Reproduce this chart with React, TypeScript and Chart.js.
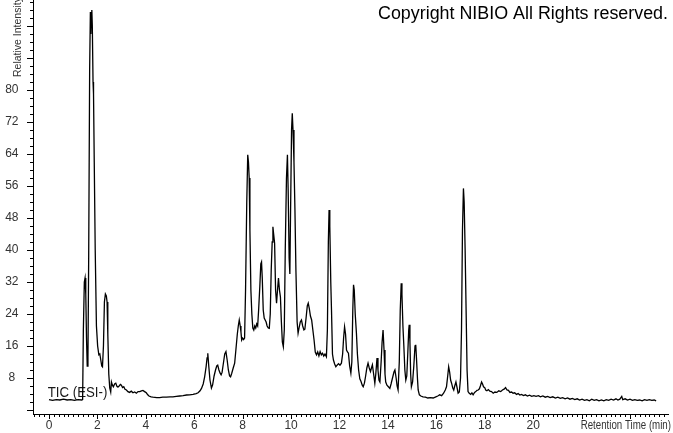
import { useEffect, useRef } from "react";
import { Chart, registerables } from "chart.js";

Chart.register(...registerables);

// ---- data ----
const retentionTimes = [
  0.0, 0.15, 0.3, 0.45, 0.6, 0.75, 0.9, 1.05, 1.2, 1.35, 1.39, 1.42, 1.46, 1.49, 1.52, 1.55, 1.58, 1.61, 1.64, 1.68,
  1.71, 1.73, 1.75, 1.77, 1.79, 1.82, 1.84, 1.87, 1.91, 1.96, 2.01, 2.06, 2.1, 2.14, 2.18, 2.21, 2.25, 2.29, 2.33, 2.37,
  2.4, 2.43, 2.47, 2.51, 2.55, 2.58, 2.62, 2.66, 2.71, 2.76, 2.81, 2.85, 2.9, 2.95, 2.99, 3.04, 3.09, 3.14, 3.2, 3.26,
  3.33, 3.4, 3.47, 3.54, 3.61, 3.68, 3.75, 3.82, 3.88, 3.95, 4.02, 4.08, 4.13, 4.22, 4.3, 4.45, 4.57, 4.7, 4.85, 5.0,
  5.12, 5.26, 5.4, 5.54, 5.68, 5.81, 5.95, 6.08, 6.16, 6.24, 6.3, 6.37, 6.43, 6.49, 6.53, 6.56, 6.6, 6.65, 6.71, 6.76,
  6.82, 6.88, 6.93, 6.97, 7.02, 7.07, 7.11, 7.15, 7.2, 7.26, 7.31, 7.36, 7.41, 7.46, 7.5, 7.55, 7.61, 7.67, 7.72, 7.78,
  7.82, 7.86, 7.9, 7.93, 7.96, 8.0, 8.04, 8.08, 8.12, 8.17, 8.21, 8.24, 8.27, 8.3, 8.34, 8.38, 8.42, 8.46, 8.5, 8.54,
  8.58, 8.62, 8.66, 8.71, 8.75, 8.78, 8.81, 8.85, 8.89, 8.93, 8.97, 9.01, 9.06, 9.1, 9.14, 9.18, 9.22, 9.25, 9.28, 9.32,
  9.36, 9.4, 9.44, 9.48, 9.52, 9.56, 9.6, 9.64, 9.68, 9.72, 9.76, 9.81, 9.85, 9.88, 9.92, 9.95, 9.98, 10.02, 10.05, 10.08,
  10.12, 10.16, 10.2, 10.25, 10.29, 10.33, 10.38, 10.43, 10.48, 10.53, 10.57, 10.62, 10.67, 10.71, 10.75, 10.8, 10.85, 10.9, 10.95, 11.0,
  11.05, 11.1, 11.15, 11.2, 11.25, 11.3, 11.35, 11.4, 11.46, 11.5, 11.54, 11.57, 11.6, 11.64, 11.67, 11.71, 11.75, 11.8, 11.85, 11.9,
  11.96, 12.02, 12.08, 12.13, 12.17, 12.21, 12.25, 12.29, 12.33, 12.37, 12.42, 12.47, 12.51, 12.55, 12.58, 12.61, 12.65, 12.7, 12.74, 12.79,
  12.84, 12.89, 12.94, 12.98, 13.03, 13.08, 13.13, 13.18, 13.23, 13.28, 13.32, 13.36, 13.41, 13.46, 13.5, 13.55, 13.59, 13.63, 13.67, 13.72,
  13.76, 13.8, 13.84, 13.88, 13.91, 13.96, 14.02, 14.08, 14.13, 14.19, 14.25, 14.29, 14.34, 14.38, 14.42, 14.47, 14.51, 14.55, 14.58, 14.62,
  14.66, 14.7, 14.74, 14.78, 14.82, 14.86, 14.88, 14.91, 14.94, 14.97, 15.02, 15.07, 15.12, 15.15, 15.18, 15.22, 15.25, 15.3, 15.36, 15.45,
  15.55, 15.65, 15.75, 15.87, 15.98, 16.06, 16.14, 16.22, 16.3, 16.37, 16.42, 16.47, 16.51, 16.55, 16.59, 16.63, 16.68, 16.72, 16.76, 16.81,
  16.86, 16.9, 16.95, 17.0, 17.04, 17.08, 17.12, 17.15, 17.19, 17.23, 17.27, 17.31, 17.36, 17.42, 17.47, 17.52, 17.58, 17.63, 17.68, 17.73,
  17.78, 17.82, 17.87, 17.91, 17.95, 18.0, 18.04, 18.09, 18.15, 18.21, 18.28, 18.35, 18.42, 18.5, 18.58, 18.66, 18.73, 18.8, 18.86, 18.92,
  18.98, 19.04, 19.11, 19.17, 19.24, 19.31, 19.38, 19.45, 19.52, 19.6, 19.68, 19.76, 19.85, 19.94, 20.03, 20.12, 20.22, 20.3, 20.4, 20.5,
  20.6, 20.7, 20.81, 20.92, 21.02, 21.12, 21.22, 21.32, 21.42, 21.52, 21.62, 21.72, 21.82, 21.92, 22.02, 22.12, 22.22, 22.32, 22.42, 22.52,
  22.62, 22.72, 22.82, 22.92, 23.02, 23.12, 23.22, 23.32, 23.42, 23.5, 23.58, 23.66, 23.7, 23.8, 23.9, 24.0, 24.1, 24.2, 24.3, 24.4,
  24.5, 24.6, 24.7, 24.8, 24.9, 25.0, 25.08,
];

const relativeIntensity = [
  2.6, 2.4, 2.6, 2.5, 2.7, 2.5, 2.6, 2.4, 2.6, 2.5, 2.6, 20, 32, 33, 29, 18, 11, 13, 38, 85,
  99.5, 94, 99, 100, 96, 82, 79, 62, 40, 21, 16, 13.8, 14, 12.5, 11, 10.8, 16, 27, 29, 28.5,
  27, 19, 9, 5.5, 4.5, 7, 6.2, 5.8, 6.5, 6.7, 5.9, 5.8, 6.0, 6.4, 6.2, 5.6, 5.8, 5.2, 5.0, 4.6,
  4.4, 4.7, 4.3, 4.5, 4.2, 4.6, 4.6, 4.8, 4.9, 4.6, 4.3, 3.8, 3.5, 3.3, 3.2, 3.1, 3.1, 3.2, 3.2, 3.3,
  3.3, 3.4, 3.5, 3.6, 3.75, 3.8, 3.9, 4.1, 4.3, 4.8, 5.4, 6.5, 8.3, 10.8, 13, 14.2, 11, 7.5, 5.5, 6.3,
  8.5, 10, 11, 11.2, 10, 9.2, 8.8, 9.4, 11.5, 14, 14.6, 12.5, 10, 8.5, 8.3, 9.2, 10.5, 11.7, 15, 19,
  21, 22.5, 21, 19.5, 17.5, 18, 17.6, 18, 30, 52, 63.8, 62, 58, 45, 30, 24, 20.5, 20, 21, 20.5,
  21.5, 21, 25, 31, 36.5, 37, 33, 25, 23, 22.5, 22, 21, 20.5, 20.4, 24, 35, 42, 45.8, 44, 41.7,
  30, 26.7, 30, 33, 30, 28.3, 22, 17, 15.8, 20, 40, 58, 63.8, 55, 38, 34, 50, 70, 74.2, 70,
  62, 50, 35, 22, 19.2, 20.5, 22, 22.5, 21, 20, 20.2, 23, 26, 26.7, 25.5, 23.5, 22.5, 20, 17.5, 14.5,
  13.8, 14.5, 13.5, 14.6, 13.8, 14.2, 13.5, 14, 13.3, 20, 42, 50, 46, 32, 25, 14, 12.5, 11.5, 10.8, 11.2,
  11.6, 11.2, 11.7, 14, 18, 20.8, 19, 15, 14.5, 14.2, 11, 9.2, 12, 25, 31.3, 30, 24, 19.2, 14, 10,
  7.8, 7.1, 6.2, 5.8, 6.7, 8.5, 10.5, 11.7, 10.5, 9.6, 10.5, 11.3, 9, 6.7, 9, 13, 10, 7.5, 7, 12,
  17, 20, 15, 9, 7, 6.2, 5.8, 5.4, 6.5, 8, 9.5, 10, 8, 6, 5, 12, 25, 31.7, 29, 21,
  15.8, 10, 7.5, 8.5, 14, 20, 21.3, 17, 9, 5.8, 7, 11, 16, 16.3, 13, 8, 5, 3.8, 3.5, 3.3,
  3.2, 3.0, 3.1, 3.0, 3.3, 3.5, 3.8, 3.6, 4.2, 5, 5.8, 8.5, 10.8, 9.5, 7.5, 6.7, 5.5, 5, 6, 7,
  5.5, 4.2, 4.5, 8, 20, 45, 55.4, 52, 40, 25, 10, 4.6, 4.2, 3.9, 4.3, 3.8, 4.4, 4.6, 4.9, 5,
  5.3, 6, 7, 6.5, 5.8, 5.6, 5.0, 4.8, 5.1, 4.7, 4.6, 4.2, 4.5, 4.4, 4.8, 4.6, 5.0, 5.2, 5.6, 5.0,
  4.9, 4.4, 4.5, 4.2, 4.3, 3.9, 4.1, 3.75, 3.9, 3.6, 3.8, 3.5, 3.7, 3.4, 3.6, 3.4, 3.6, 3.3, 3.5, 3.2,
  3.4, 3.1, 3.3, 3.0, 3.2, 2.9, 3.1, 2.8, 3.0, 2.7, 2.9, 2.6, 2.8, 2.5, 2.7, 2.4, 2.6, 2.3, 2.7, 2.4,
  2.6, 2.3, 2.5, 2.3, 2.6, 2.4, 2.7, 2.5, 2.8, 2.5, 2.7, 3.4, 2.6, 2.8, 2.5, 2.7, 2.4, 2.6, 2.4, 2.5,
  2.3, 2.6, 2.4, 2.6, 2.4, 2.5, 2.3,
];

const xTickLabels = [0, 2, 4, 6, 8, 10, 12, 14, 16, 18, 20];
const yTickLabels = [8, 16, 24, 32, 40, 48, 56, 64, 72, 80];

const copyrightText = "Copyright NIBIO All Rights reserved.";
const traceLabel = "TIC (ESI-)";
const xAxisTitle = "Retention Time (min)";
const yAxisTitle = "Relative Intensity";

const REGULAR = "'Liberation Sans', Arial, sans-serif";

function fitText(
  ctx: CanvasRenderingContext2D,
  text: string,
  x: number,
  y: number,
  width: number,
  align: CanvasTextAlign
) {
  const m = ctx.measureText(text).width || 1;
  ctx.save();
  ctx.translate(x, y);
  ctx.scale(width / m, 1);
  ctx.textAlign = align;
  ctx.textBaseline = "alphabetic";
  ctx.fillText(text, 0, 0);
  ctx.restore();
}

const decorPlugin = {
  id: "decor",
  beforeDatasetsDraw(chart: any) {
    const ctx: CanvasRenderingContext2D = chart.ctx;
    const xs = chart.scales.x;
    const ys = chart.scales.y;
    const area = chart.chartArea;
    ctx.save();
    // tick marks (major + minor)
    ctx.strokeStyle = "#000";
    ctx.lineWidth = 1;
    ctx.beginPath();
    for (let i = -3; i <= 127; i++) {
      const v = i / 5;
      const px = Math.round(xs.getPixelForValue(v)) + 0.5;
      const len = i % 10 === 0 ? 5 : 3;
      ctx.moveTo(px, area.bottom);
      ctx.lineTo(px, area.bottom + len);
    }
    for (let i = 0; i <= 51; i++) {
      const v = i * 2;
      const py = Math.round(ys.getPixelForValue(v)) + 0.5;
      const len = v % 8 === 0 ? 6 : 3;
      ctx.moveTo(area.left - len, py);
      ctx.lineTo(area.left, py);
    }
    ctx.stroke();

    // copyright
    ctx.fillStyle = "#000";
    ctx.font = `18px ${REGULAR}`;
    fitText(ctx, copyrightText, 668, 18.5, 290, "right");

    // trace label
    ctx.fillStyle = "#1a1a1a";
    ctx.font = `15.5px ${REGULAR}`;
    fitText(ctx, traceLabel, 47.7, 397.3, 59.6, "left");

    // x axis title
    ctx.fillStyle = "#333";
    ctx.font = `12.5px ${REGULAR}`;
    fitText(ctx, xAxisTitle, 580.7, 428.5, 90.3, "left");

    // y axis title (rotated)
    ctx.save();
    ctx.translate(20.7, 77);
    ctx.rotate(-Math.PI / 2);
    ctx.fillStyle = "#333";
    ctx.font = `10.5px ${REGULAR}`;
    ctx.textAlign = "left";
    ctx.textBaseline = "alphabetic";
    ctx.fillText(yAxisTitle, 0, 0);
    ctx.restore();

    ctx.restore();
  },
};

export default function App() {
  const canvasRef = useRef<HTMLCanvasElement | null>(null);

  useEffect(() => {
    const canvas = canvasRef.current;
    if (!canvas) return;
    const points = retentionTimes.map((t, i) => ({ x: t, y: relativeIntensity[i] }));
    const chart = new Chart(canvas, {
      type: "line",
      data: {
        datasets: [
          {
            label: traceLabel,
            data: points,
            borderColor: "#000",
            borderWidth: 1.3,
            pointRadius: 0,
            tension: 0,
            fill: false,
          },
        ],
      },
      options: {
        animation: false,
        responsive: false,
        maintainAspectRatio: false,
        layout: { padding: { left: 0, right: 5, top: 0, bottom: 0 } },
        plugins: {
          legend: { display: false },
          tooltip: { enabled: false },
          title: { display: false },
        },
        scales: {
          x: {
            type: "linear",
            min: -0.66,
            max: 25.57,
            grid: { display: false, drawTicks: true, tickLength: 3 },
            border: { display: true, color: "#000", width: 1 },
            afterBuildTicks: (s: any) => {
              s.ticks = xTickLabels.map((v) => ({ value: v }));
            },
            afterFit: (s: any) => {
              s.height = 19;
              s.paddingLeft = 0;
              s.paddingRight = 0;
            },
            ticks: {
              autoSkip: false,
              maxRotation: 0,
              minRotation: 0,
              padding: 1,
              color: "#333",
              font: { family: REGULAR, size: 12 },
              callback: (v: any) => String(v),
            },
          },
          y: {
            type: "linear",
            min: -1.0,
            max: 102.5,
            grid: { display: false, drawTicks: true, tickLength: 4 },
            border: { display: true, color: "#000", width: 1 },
            afterBuildTicks: (s: any) => {
              s.ticks = yTickLabels.map((v) => ({ value: v }));
            },
            afterFit: (s: any) => {
              s.width = 33;
              s.paddingTop = 0;
              s.paddingBottom = 0;
            },
            ticks: {
              autoSkip: false,
              padding: 10.5,
              crossAlign: "center",
              color: "#333",
              font: { family: REGULAR, size: 12 },
              callback: (v: any) => String(v),
            },
          },
        },
      },
      plugins: [decorPlugin],
    });
    return () => chart.destroy();
  }, []);

  return (
    <div style={{ position: "absolute", left: 0, top: 0, width: 673, height: 433, background: "#fff" }}>
      <canvas ref={canvasRef} width={673} height={433} style={{ display: "block", width: 673, height: 433 }} />
    </div>
  );
}
